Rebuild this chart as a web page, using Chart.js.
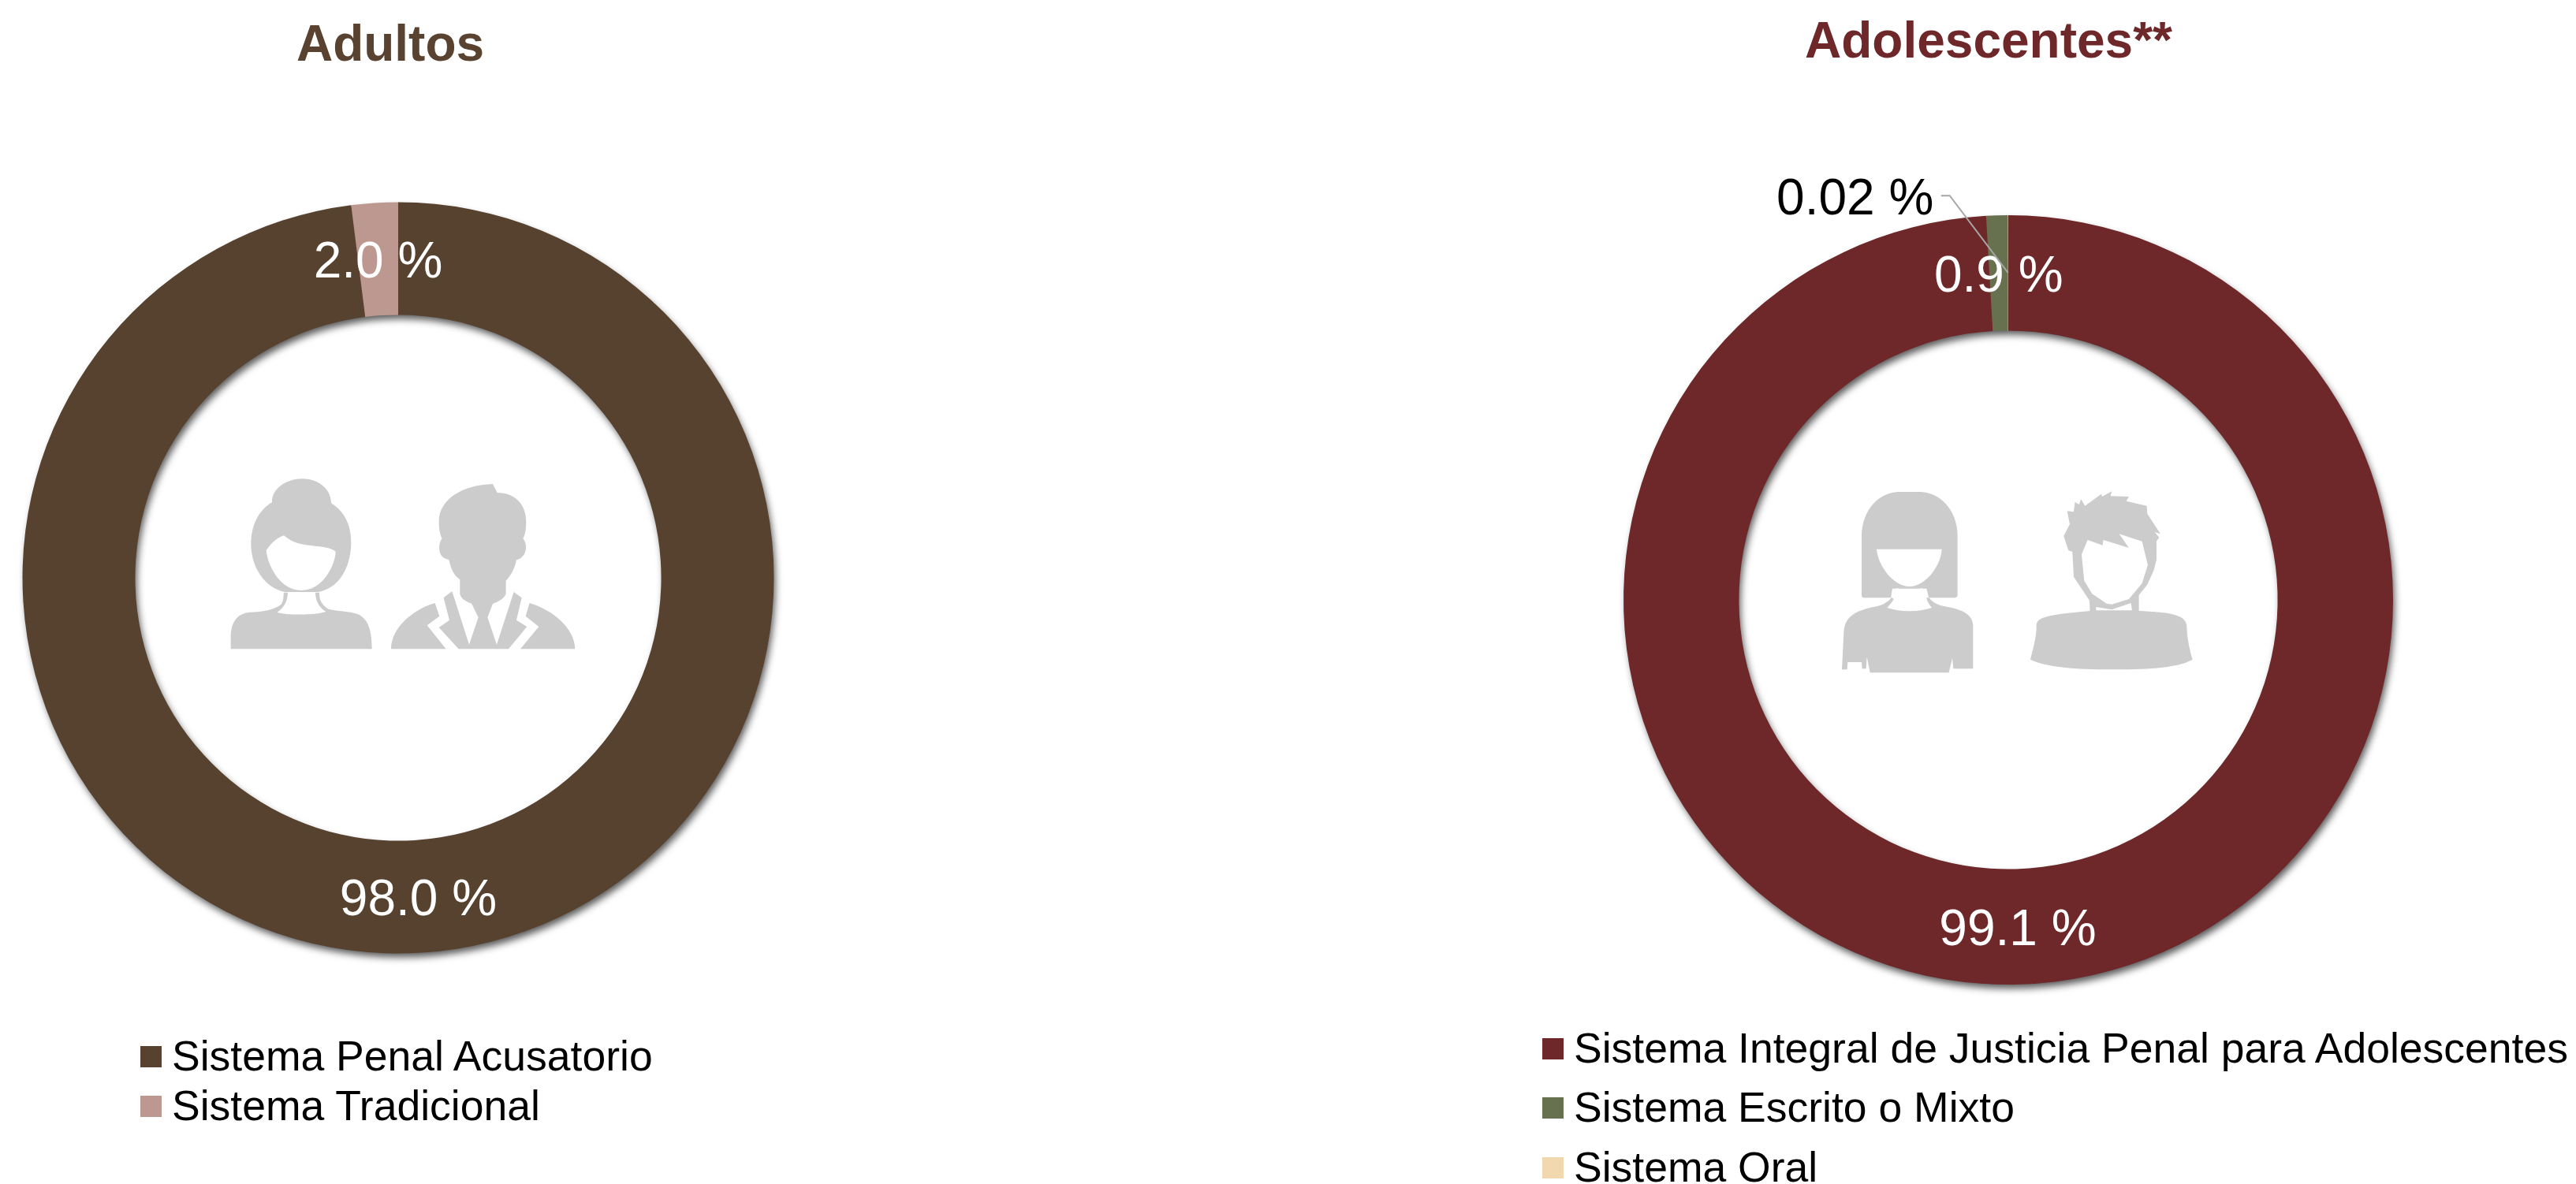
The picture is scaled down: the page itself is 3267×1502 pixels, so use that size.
<!DOCTYPE html>
<html lang="es">
<head>
<meta charset="utf-8">
<title>Adultos / Adolescentes</title>
<script src="https://cdn.jsdelivr.net/npm/chart.js@4"></script>
<style>
    html, body { margin: 0; padding: 0; background: #fff; width: 3267px; height: 1502px; overflow: hidden; }
    body { position: relative; font-family: "Liberation Sans", Arial, sans-serif; }
    canvas { position: absolute; }
    .titulo { position: absolute; font-weight: bold; font-size: 64px; line-height: 70px; white-space: nowrap; transform: translateX(-50%); }
    .leyenda { position: absolute; font-size: 53.5px; line-height: 60px; white-space: nowrap; color: #000; }
    .leyenda span { position: absolute; white-space: nowrap; }
    .leyenda i { position: absolute; display: block; width: 27px; height: 27px; }
    #iconos { position: absolute; left: 0; top: 0; }
</style>
</head>
<body>
<div class="titulo" id="titulo-adultos" style="left:495px; top:20px; color:#5A4230"></div>
<div class="titulo" id="titulo-adolescentes" style="left:2522px; top:16px; color:#6E2829"></div>

<canvas id="adultos" width="1000" height="1000" style="left:5px; top:233px"></canvas>
<canvas id="adolescentes" width="1100" height="1100" style="left:1997px; top:211px"></canvas>

<svg id="iconos" width="3267" height="1502" viewBox="0 0 3267 1502" fill="#CCCCCC">
    <!-- mujer y hombre adultos -->
    <g transform="translate(250 550) scale(0.3333)">
        <path d="M285 262C283 210 340 172 400 172C460 172 510 210 510 265C560 295 588 350 586 420C584 510 540 590 460 603L335 603C260 590 205 510 205 420C205 350 235 290 285 262Z"/>
        <path fill="#fff" d="M263 445C285 410 310 395 330 388C360 415 400 425 450 428C490 432 515 437 527 450C525 500 480 597 395 597C320 597 270 510 263 445Z"/>
        <path d="M128 820L128 770C130 720 150 685 200 680C250 678 290 672 320 650C330 635 328 615 330 605L345 605C345 630 335 660 305 680C340 692 450 692 490 678C460 660 450 630 450 605L465 605C465 630 470 650 500 668C540 678 600 675 625 695C655 715 665 760 665 820Z"/>
        <path d="M1125 192L1142 225C1210 225 1252 270 1252 335C1252 365 1248 385 1240 400C1255 415 1255 450 1240 465C1230 478 1222 480 1215 480C1210 510 1195 540 1175 560L1175 610C1165 635 1140 640 1125 648L1105 700L1140 803L1205 603L1235 625L1215 710L1255 735L1185 820L995 820L920 738L960 710L938 625L970 600L1035 803L1070 700L1045 648C1030 640 1005 635 1000 610L1000 555C975 540 965 510 958 480C945 478 935 472 930 465C918 450 918 415 932 400C925 385 920 365 920 335C920 250 1010 195 1125 192Z"/>
        <path d="M905 645L922 695L875 730L947 820L738 820C738 740 820 670 905 645Z"/>
        <path d="M1265 645L1250 695L1300 735L1230 820L1438 820C1438 740 1350 670 1265 645Z"/>
    </g>
    <!-- mujer y hombre adolescentes -->
    <g transform="translate(2300 590) scale(0.3333)">
        <path d="M320 102L410 102C500 110 548 190 548 270L548 495C548 503 540 505 530 505L190 505C185 505 183 500 183 495L183 270C183 190 230 110 320 102Z"/>
        <path fill="#fff" d="M295 500L300 470L430 470L440 510L450 540L280 540Z"/>
        <path fill="#fff" d="M240 320L488 320C485 380 430 460 365 462C300 460 245 380 240 320Z"/>
        <path d="M316 468C340 478 390 478 414 468C414 500 420 520 450 540C400 560 330 560 280 540C310 520 316 500 316 468Z" fill="#fff"/>
        <path d="M108 778L115 640C118 580 150 555 240 538C265 532 285 520 297 503L305 510C300 520 290 532 280 543C330 560 400 560 450 543C440 530 432 520 430 505L440 505C455 525 475 533 500 538C570 550 605 570 607 610L607 775L532 775L528 735L515 790L215 790L203 730L200 775L185 775L183 750L130 750L128 778Z"/>
        <path d="M965 175L990 178L995 140L1010 150L1018 130L1033 155L1095 110L1098 120L1135 100L1130 118L1200 120L1190 137L1268 155L1270 185L1320 262L1298 255L1315 275L1305 290L1305 360L1295 400L1270 455L1238 495L1238 560L1052 560L1050 515L990 425L985 330L970 325L952 270L975 225Z"/>
        <path fill="#fff" d="M1043 285L1100 305L1103 285L1200 315L1163 262L1250 290L1272 380L1250 450L1200 510L1135 530L1115 527L1060 490L1030 440L1020 340Z"/>
        <path fill="#fff" d="M1075 540L1135 550L1208 525L1212 553L1075 553Z"/>
        <path d="M848 610C850 575 900 570 1050 555L1240 555C1340 560 1415 565 1420 610C1420 650 1430 700 1442 740C1380 775 1250 778 1130 778C1000 778 890 770 825 740C835 700 850 650 848 610Z"/>
    </g>
</svg>

<div class="leyenda" id="leyenda-adultos"></div>
<div class="leyenda" id="leyenda-adolescentes"></div>

<script>
const adultosTitle = 'Adultos';
const adultosCategories = ['Sistema Penal Acusatorio', 'Sistema Tradicional'];
const adultosValues = [98.0, 2.0];
const adultosLabels = ['98.0 %', '2.0 %'];
const adultosColors = ['#574230', '#BC9890'];

const adolescentesTitle = 'Adolescentes**';
const adolescentesCategories = ['Sistema Integral de Justicia Penal para Adolescentes', 'Sistema Escrito o Mixto', 'Sistema Oral'];
const adolescentesValues = [99.08, 0.9, 0.02];
const adolescentesLabels = ['99.1 %', '0.9 %', '0.02 %'];
const adolescentesColors = ['#6E2829', '#67704F', '#F2D8AE'];

// sombra del anillo, se pinta una vez debajo de los sectores
const ringShadow = {
    id: 'ringShadow',
    beforeDatasetDraw(chart) {
        const arc = chart.getDatasetMeta(0).data[0];
        const { x, y, innerRadius, outerRadius } = arc.getProps(['x', 'y', 'innerRadius', 'outerRadius'], true);
        const ctx = chart.ctx;
        ctx.save();
        ctx.shadowColor = 'rgba(0,0,0,0.65)';
        ctx.shadowBlur = 10;
        ctx.shadowOffsetX = 3;
        ctx.shadowOffsetY = 6;
        ctx.fillStyle = chart.data.datasets[0].backgroundColor[0];
        ctx.beginPath();
        ctx.arc(x, y, outerRadius - 1, 0, Math.PI * 2);
        ctx.arc(x, y, innerRadius + 1, 0, Math.PI * 2, true);
        ctx.fill();
        ctx.restore();
    }
};

// etiquetas de porcentaje, centradas en cada sector como en el original
const sliceLabels = {
    id: 'sliceLabels',
    afterDatasetsDraw(chart, args, opts) {
        const ctx = chart.ctx;
        ctx.save();
        ctx.font = '64px "Liberation Sans", Arial, sans-serif';
        ctx.textAlign = 'center';
        ctx.textBaseline = 'middle';
        chart.getDatasetMeta(0).data.forEach((arc, i) => {
            const p = arc.getCenterPoint();
            if (opts.callout && opts.callout.index === i) {
                ctx.strokeStyle = '#A6A6A6';
                ctx.lineWidth = 2;
                ctx.beginPath();
                ctx.moveTo(p.x, p.y);
                ctx.lineTo(p.x - 74, p.y - 98);
                ctx.lineTo(p.x - 85, p.y - 98);
                ctx.stroke();
                ctx.fillStyle = '#000';
                ctx.fillText(opts.labels[i], p.x - 194, p.y - 92);
            } else {
                ctx.fillStyle = '#fff';
                ctx.fillText(opts.labels[i], p.x, p.y + 6);
            }
        });
        ctx.restore();
    }
};

function donut(id, categories, values, colors, labels, padding, callout) {
    return new Chart(document.getElementById(id), {
        type: 'doughnut',
        data: {
            labels: categories,
            datasets: [{ data: values, backgroundColor: colors, borderWidth: 0 }]
        },
        options: {
            responsive: false,
            animation: false,
            cutout: '70%',
            layout: { padding: padding },
            plugins: {
                legend: { display: false },
                tooltip: { enabled: false },
                sliceLabels: { labels: labels, callout: callout }
            }
        },
        plugins: [ringShadow, sliceLabels]
    });
}

function fillLegend(id, categories, colors, swatchX, textX, rowsY) {
    const box = document.getElementById(id);
    categories.forEach((name, i) => {
        const sw = document.createElement('i');
        sw.style.cssText = `left:${swatchX}px; top:${rowsY[i] - 13}px; background:${colors[i]}`;
        const txt = document.createElement('span');
        txt.textContent = name;
        txt.style.cssText = `left:${textX}px; top:${rowsY[i] - 30}px`;
        box.appendChild(sw);
        box.appendChild(txt);
    });
}

document.getElementById('titulo-adultos').textContent = adultosTitle;
document.getElementById('titulo-adolescentes').textContent = adolescentesTitle;

donut('adultos', adultosCategories, adultosValues, adultosColors, adultosLabels, 23.5, null);
donut('adolescentes', adolescentesCategories, adolescentesValues, adolescentesColors, adolescentesLabels, 62, { index: 2 });

fillLegend('leyenda-adultos', adultosCategories, adultosColors, 178, 218, [1340, 1403]);
fillLegend('leyenda-adolescentes', adolescentesCategories, adolescentesColors, 1956, 1996, [1330, 1405, 1481]);
</script>
</body>
</html>
